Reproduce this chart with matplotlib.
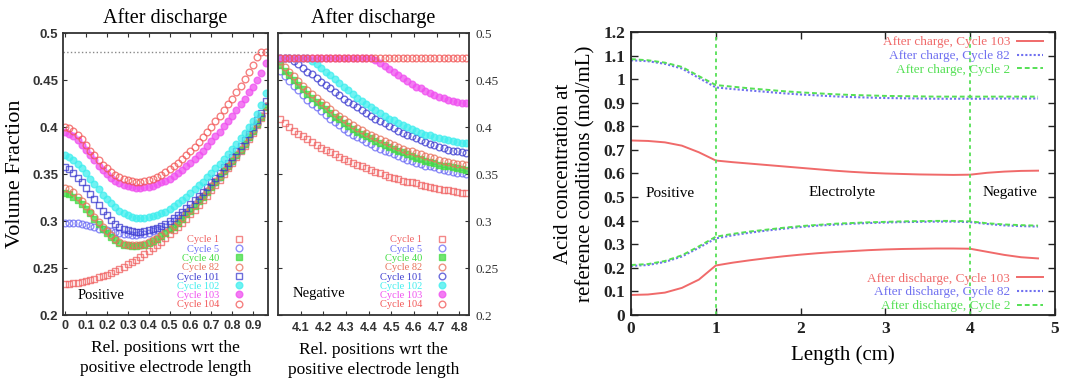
import numpy as np
import matplotlib
matplotlib.use('Agg')
import matplotlib.pyplot as plt

plt.rcParams['font.family'] = ['Liberation Serif', 'DejaVu Serif']

# ---- left panels: volume fraction after discharge ----
cycles = ['Cycle 1', 'Cycle 5', 'Cycle 40', 'Cycle 82', 'Cycle 101', 'Cycle 102', 'Cycle 103', 'Cycle 104']

pos_x = np.linspace(0, 0.96, 49)
pos_c1 = [.233, .233, .234, .234, .235, .236, .237, .238, .240, .241, .243, .245, .247, .249, .251, .254, .256,
          .259, .262, .265, .268, .271, .275, .278, .282, .286, .290, .294, .298, .302, .307, .312, .317, .322,
          .327, .333, .338, .344, .350, .356, .362, .368, .374, .380, .387, .394, .402, .410, .418]
pos_c5 = [.298, .298, .298, .298, .297, .296, .295, .294, .292, .291, .290, .289, .288, .287, .286, .286, .285,
          .285, .286, .286, .287, .289, .290, .292, .294, .297, .300, .303, .306, .310, .314, .318, .323, .327,
          .332, .337, .342, .347, .353, .358, .364, .370, .376, .382, .389, .396, .403, .412, .422]
pos_c40 = [.330, .329, .326, .322, .318, .313, .308, .302, .297, .292, .287, .283, .280, .277, .275, .274, .273,
           .273, .274, .275, .277, .279, .281, .284, .287, .291, .294, .298, .302, .307, .311, .316, .321, .326,
           .331, .336, .342, .347, .353, .358, .364, .370, .376, .382, .389, .396, .403, .411, .421]
pos_c82 = [.335, .334, .331, .326, .321, .316, .310, .304, .299, .294, .289, .285, .281, .278, .276, .275, .274,
           .274, .275, .276, .278, .280, .282, .285, .288, .292, .295, .299, .303, .308, .312, .317, .322, .327,
           .332, .337, .343, .348, .354, .359, .365, .371, .377, .383, .390, .397, .404, .412, .422]
pos_c101 = [.357, .355, .351, .346, .341, .335, .329, .323, .317, .311, .306, .301, .297, .294, .292, .290, .289,
            .288, .288, .289, .290, .291, .293, .295, .297, .300, .303, .306, .310, .314, .318, .322, .327, .331,
            .336, .341, .346, .351, .357, .362, .368, .374, .380, .386, .393, .400, .407, .415, .428]
pos_c102 = [.370, .368, .365, .361, .356, .351, .345, .339, .334, .328, .323, .319, .315, .311, .308, .306, .304,
            .303, .303, .303, .304, .305, .306, .308, .310, .313, .316, .319, .322, .326, .330, .334, .338, .342,
            .347, .351, .356, .361, .366, .371, .377, .382, .388, .394, .400, .406, .414, .423, .436]
pos_c103 = [.395, .393, .390, .386, .381, .376, .370, .365, .359, .354, .350, .346, .343, .340, .338, .337, .336,
            .335, .335, .336, .336, .337, .339, .341, .343, .345, .348, .351, .354, .358, .362, .366, .370, .375,
            .380, .385, .390, .395, .401, .406, .412, .418, .424, .430, .437, .443, .450, .457, .468]
pos_c104 = [.400, .399, .396, .392, .387, .381, .375, .370, .365, .360, .356, .352, .349, .347, .345, .344, .343,
            .342, .342, .343, .344, .345, .347, .349, .352, .355, .358, .362, .366, .370, .374, .379, .384, .389,
            .395, .400, .406, .412, .418, .424, .430, .437, .444, .451, .458, .466, .474, .480, .480]

neg_x = np.linspace(4.01, 4.83, 42)
neg_c1 = [.408, .404, .400, .396, .393, .390, .387, .384, .381, .378, .376, .373, .371, .368, .366, .364, .362,
          .360, .358, .356, .354, .352, .351, .349, .347, .346, .345, .343, .342, .341, .340, .338, .337, .336,
          .335, .334, .333, .333, .332, .331, .330, .330]
neg_c5 = [.460, .454, .449, .444, .439, .434, .429, .425, .421, .417, .413, .409, .405, .402, .398, .395, .392,
          .389, .387, .384, .382, .379, .377, .375, .373, .371, .369, .367, .365, .364, .362, .361, .359, .358,
          .357, .355, .354, .353, .352, .351, .351, .350]
neg_c40 = [.466, .460, .455, .450, .445, .440, .435, .431, .427, .423, .419, .415, .411, .408, .404, .401, .398,
           .395, .393, .390, .388, .385, .383, .381, .379, .377, .375, .373, .371, .369, .367, .366, .364, .363,
           .362, .360, .359, .358, .357, .356, .355, .354]
neg_c82 = [.470, .464, .459, .454, .449, .444, .439, .435, .431, .427, .423, .419, .415, .412, .408, .405, .402,
           .399, .397, .394, .392, .389, .387, .385, .383, .381, .379, .377, .375, .374, .372, .371, .369, .368,
           .367, .365, .364, .363, .362, .361, .361, .360]
neg_c101 = [.473, .473, .473, .470, .467, .463, .459, .456, .452, .448, .445, .441, .437, .434, .430, .427, .424,
            .421, .418, .415, .412, .409, .406, .404, .401, .399, .396, .394, .392, .390, .388, .386, .384, .382,
            .381, .379, .378, .376, .375, .374, .373, .372]
neg_c102 = [.473, .473, .473, .473, .473, .473, .473, .470, .467, .463, .459, .455, .451, .447, .443, .439, .435,
            .431, .428, .424, .421, .418, .415, .412, .409, .407, .404, .402, .400, .398, .396, .394, .392, .391,
            .389, .388, .387, .386, .385, .384, .383, .383]
neg_c103 = [.473, .473, .473, .473, .473, .473, .473, .473, .473, .473, .473, .473, .473, .473, .473, .473, .473,
            .473, .473, .473, .473, .471, .468, .465, .462, .458, .455, .452, .449, .446, .443, .441, .438, .436,
            .434, .432, .431, .429, .428, .427, .426, .426]
neg_c104 = [.473, .473, .473, .473, .473, .473, .473, .473, .473, .473, .473, .473, .473, .473, .473, .473, .473,
            .473, .473, .473, .473, .473, .473, .473, .473, .473, .473, .473, .473, .473, .473, .473, .473, .473,
            .473, .473, .473, .473, .473, .473, .473, .473]

# ---- right panel: acid concentration ----
len_x = np.linspace(0, 4.8, 25)
chg_103 = [.740, .738, .732, .718, .690, .655, .648, .642, .636, .630, .624, .618, .612, .607, .603, .600, .598,
           .596, .595, .594, .595, .603, .608, .611, .612]
chg_82 = [1.080, 1.076, 1.065, 1.045, 1.005, .965, .958, .952, .946, .940, .935, .931, .927, .924, .922, .920,
          .919, .918, .917, .917, .917, .917, .918, .918, .918]
chg_2 = [1.085, 1.080, 1.070, 1.052, 1.013, .975, .968, .961, .955, .949, .944, .940, .936, .933, .931, .929,
         .928, .927, .926, .926, .926, .926, .926, .926, .926]
dis_103 = [.085, .087, .095, .115, .150, .210, .222, .232, .241, .249, .256, .262, .267, .271, .275, .278, .280,
           .281, .282, .282, .281, .268, .255, .245, .240]
dis_82 = [.208, .212, .225, .248, .285, .325, .338, .349, .358, .366, .373, .379, .383, .387, .390, .392, .394,
          .395, .396, .396, .394, .386, .380, .377, .375]
dis_2 = [.212, .216, .229, .253, .291, .332, .344, .354, .362, .370, .377, .382, .387, .390, .393, .395, .397,
         .398, .399, .399, .397, .389, .384, .381, .379]

red = '#f06060'
green = '#44dd44'
cyan = '#40eeee'
magenta = '#f050f0'
colors = [red, '#6a6af5', green, '#e8705a', '#3c3cd0', cyan, magenta, '#f25656']
pos_marks = ['s', 'o', 's', 'o', 's', 'o', 'o', 'o']
neg_marks = ['s', 'o', 's', 'o', 'o', 'o', 'o', 'o']
filled = [False, False, True, False, False, True, True, False]

fig = plt.figure(figsize=(10.65, 3.83), dpi=100)
ax1 = fig.add_axes([0.0592, 0.1775, 0.1925, 0.7363])
ax2 = fig.add_axes([0.261, 0.1775, 0.1793, 0.7363])
ax3 = fig.add_axes([0.5925, 0.1775, 0.3981, 0.739])

pos_data = [pos_c1, pos_c5, pos_c40, pos_c82, pos_c101, pos_c102, pos_c103, pos_c104]
neg_data = [neg_c1, neg_c5, neg_c40, neg_c82, neg_c101, neg_c102, neg_c103, neg_c104]

ax1.axhline(0.48, color='#888888', ls=':', lw=1.0)
for ax, xs, data, marks in [(ax1, pos_x, pos_data, pos_marks), (ax2, neg_x, neg_data, neg_marks)]:
    for lab, ys, c, m, f in zip(cycles, data, colors, marks, filled):
        ax.plot(xs, ys, ls='none', marker=m, ms=4.8, mew=1.0, color=c,
                mfc=(c if f else 'none'), alpha=0.75, label=lab)
    ax.set_ylim(0.2, 0.5)
    ax.set_yticks([0.2, 0.25, 0.3, 0.35, 0.4, 0.45, 0.5])
    ax.set_yticklabels(['0.2', '0.25', '0.3', '0.35', '0.4', '0.45', '0.5'])
    ax.set_title('After discharge', fontsize=14.5, pad=7)
    ax.set_xlabel('Rel. positions wrt the\npositive electrode length', fontsize=12.5, linespacing=1.3, labelpad=6)
    ax.tick_params(direction='in', length=3, width=0.8, top=True, right=True, colors='#333333')
    ax.tick_params(axis='x', labelsize=9)
    ax.tick_params(axis='y', labelsize=9.5)
    for t in ax.get_xticklabels() + ax.get_yticklabels():
        t.set_fontfamily('Liberation Sans')
        t.set_fontweight('bold')
    for s in ax.spines.values():
        s.set_color('#333333')
        s.set_linewidth(1.3)
    leg = ax.legend(loc='lower right', bbox_to_anchor=(0.885, 0.02), markerfirst=False, frameon=False,
                    labelcolor='linecolor', fontsize=7.5, handlelength=1.0, handletextpad=1.4,
                    labelspacing=0.0, borderpad=0, borderaxespad=0)

ax1.set_xlim(-0.01, 0.972)
ax1.set_xticks(np.linspace(0, 0.9, 10))
ax1.set_xticklabels(['0', '0.1', '0.2', '0.3', '0.4', '0.5', '0.6', '0.7', '0.8', '0.9'])
ax1.set_ylabel('Volume Fraction', fontsize=16, labelpad=5)
ax1.text(0.06, 0.221, 'Positive', fontsize=10.5, va='center')

ax2.set_xlim(4.0, 4.842)
ax2.set_xticks(np.linspace(4.1, 4.8, 8))
ax2.set_xticklabels(['4.1', '4.2', '4.3', '4.4', '4.5', '4.6', '4.7', '4.8'])
ax2.yaxis.tick_right()
ax2.tick_params(left=True, labelleft=False, labelright=True, pad=5)
ax2.text(4.065, 0.223, 'Negative', fontsize=10.5, va='center')

# right panel
ax3.plot(len_x, chg_103, color='#f06a6a', lw=1.4, label='After charge, Cycle 103')
ax3.plot(len_x, chg_82, color='#7070f0', lw=1.5, ls=(0, (1, 1)), label='After charge, Cycle 82')
ax3.plot(len_x, chg_2, color='#55e055', lw=1.4, ls=(0, (2.5, 1.5)), label='After charge, Cycle 2')
ax3.plot(len_x, dis_103, color='#f06a6a', lw=1.4, label='After discharge, Cycle 103')
ax3.plot(len_x, dis_82, color='#7070f0', lw=1.5, ls=(0, (1, 1)), label='After discharge, Cycle 82')
ax3.plot(len_x, dis_2, color='#55e055', lw=1.4, ls=(0, (2.5, 1.5)), label='After discharge, Cycle 2')
for xv in [1, 4]:
    ax3.axvline(xv, color='#55e055', lw=1.3, ls=(0, (2, 2)))

ax3.set_xlim(0, 5)
ax3.set_ylim(0, 1.2)
ax3.set_xticks([0, 1, 2, 3, 4, 5])
ax3.set_yticks(np.linspace(0, 1.2, 13))
ax3.set_yticklabels(['0', '0.1', '0.2', '0.3', '0.4', '0.5', '0.6', '0.7', '0.8', '0.9', '1', '1.1', '1.2'])
ax3.tick_params(direction='in', length=5, width=1.0, top=True, right=True, labelsize=12.5, colors='#222222', pad=4)
for t in ax3.get_xticklabels() + ax3.get_yticklabels():
    t.set_fontweight('bold')
for s in ax3.spines.values():
    s.set_color('#222222')
    s.set_linewidth(1.3)
ax3.set_xlabel('Length (cm)', fontsize=15, labelpad=6)
ax3.set_ylabel('Acid concentration at\nreference conditions (mol/mL)', fontsize=15, labelpad=6)

ax3.text(0.46, 0.517, 'Positive', fontsize=11, ha='center', va='center')
ax3.text(2.49, 0.52, 'Electrolyte', fontsize=11, ha='center', va='center')
ax3.text(4.47, 0.52, 'Negative', fontsize=11, ha='center', va='center')

lines = ax3.get_lines()
leg_top = ax3.legend(lines[:3], [l.get_label() for l in lines[:3]], loc='upper right',
                     bbox_to_anchor=(0.972, 0.985), markerfirst=False, frameon=False, labelcolor='linecolor',
                     fontsize=9.5, handlelength=2.0, handletextpad=0.5, labelspacing=0.12,
                     borderpad=0, borderaxespad=0)
ax3.add_artist(leg_top)
ax3.legend(lines[3:6], [l.get_label() for l in lines[3:6]], loc='lower right',
           bbox_to_anchor=(0.972, 0.01), markerfirst=False, frameon=False, labelcolor='linecolor',
           fontsize=9.5, handlelength=2.0, handletextpad=0.5, labelspacing=0.12,
           borderpad=0, borderaxespad=0)

fig.savefig('out.png', dpi=100)
